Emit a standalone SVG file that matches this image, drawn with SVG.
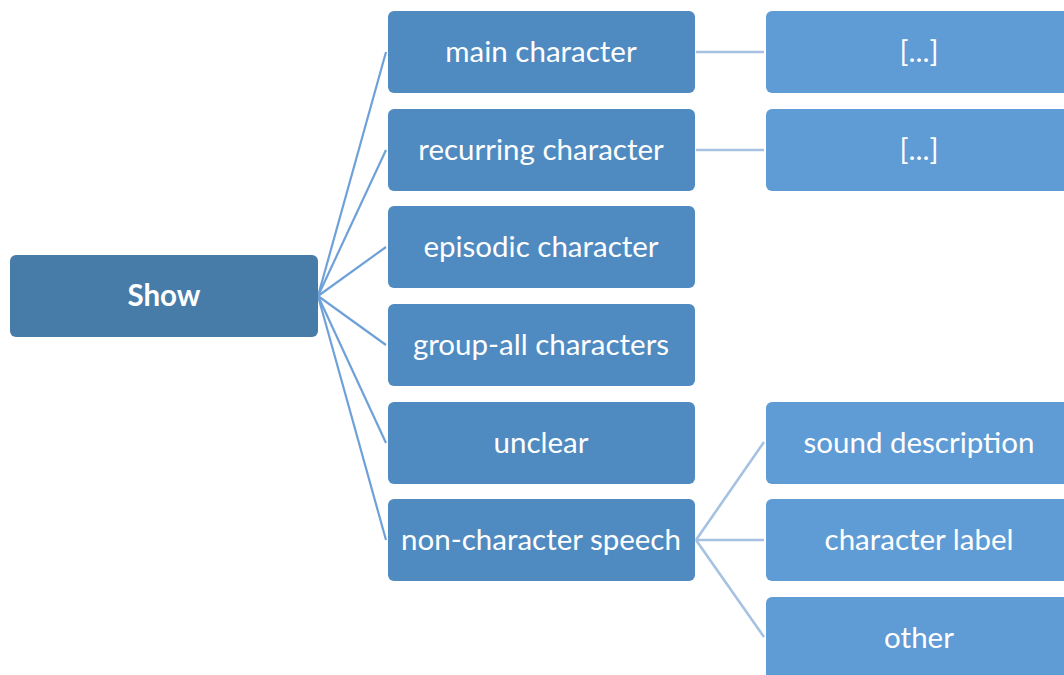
<svg xmlns="http://www.w3.org/2000/svg" width="1064" height="675" viewBox="0 0 1064 675">
<style>
.root{fill:#477CA9}
.mid{fill:#4F8BC1}
.leaf{fill:#5F9BD4}
.t{fill:#fff;font-family:Lato,"Open Sans",sans-serif;font-size:29.5px;text-anchor:middle}
.b{font-weight:bold}
.c1{stroke:#6FA1D9;stroke-width:2.2;fill:none}
.c2{stroke:#A6C1E2;stroke-width:2.6;fill:none}
</style>
<rect width="1064" height="675" fill="#fff"/>
<g id="connectors">
<line class="c1" x1="318" y1="296" x2="386" y2="52"/>
<line class="c1" x1="318" y1="296" x2="386" y2="150"/>
<line class="c1" x1="318" y1="296" x2="386" y2="247"/>
<line class="c1" x1="318" y1="296" x2="386" y2="345"/>
<line class="c1" x1="318" y1="296" x2="386" y2="443"/>
<line class="c1" x1="318" y1="296" x2="386" y2="540"/>
<line class="c2" x1="696" y1="52" x2="764" y2="52"/>
<line class="c2" x1="696" y1="150" x2="764" y2="150"/>
<line class="c2" x1="696" y1="540" x2="764" y2="442"/>
<line class="c2" x1="696" y1="540" x2="764" y2="540"/>
<line class="c2" x1="696" y1="540" x2="764" y2="637"/>
</g>
<g id="show"><rect class="root" x="10" y="255" width="308" height="82" rx="6"/><text class="t b" x="164" y="306">Show</text></g>
<g id="main"><rect class="mid" x="388" y="11" width="307" height="82" rx="6"/><text class="t" x="541" y="62">main character</text></g>
<g id="recurring"><rect class="mid" x="388" y="109" width="307" height="82" rx="6"/><text class="t" x="541" y="160">recurring character</text></g>
<g id="episodic"><rect class="mid" x="388" y="206" width="307" height="82" rx="6"/><text class="t" x="541" y="257">episodic character</text></g>
<g id="group"><rect class="mid" x="388" y="304" width="307" height="82" rx="6"/><text class="t" x="541" y="355">group-all characters</text></g>
<g id="unclear"><rect class="mid" x="388" y="402" width="307" height="82" rx="6"/><text class="t" x="541" y="453">unclear</text></g>
<g id="noncharacter"><rect class="mid" x="388" y="499" width="307" height="82" rx="6"/><text class="t" x="541" y="550">non-character speech</text></g>
<g id="main-detail"><rect class="leaf" x="766" y="11" width="310" height="82" rx="6"/><text class="t" x="919" y="62">[...]</text></g>
<g id="recurring-detail"><rect class="leaf" x="766" y="109" width="310" height="82" rx="6"/><text class="t" x="919" y="160">[...]</text></g>
<g id="sound"><rect class="leaf" x="766" y="402" width="310" height="82" rx="6"/><text class="t" x="919" y="453">sound description</text></g>
<g id="label"><rect class="leaf" x="766" y="499" width="310" height="82" rx="6"/><text class="t" x="919" y="550">character label</text></g>
<g id="other"><rect class="leaf" x="766" y="597" width="310" height="100" rx="6"/><text class="t" x="919" y="648">other</text></g>
</svg>
